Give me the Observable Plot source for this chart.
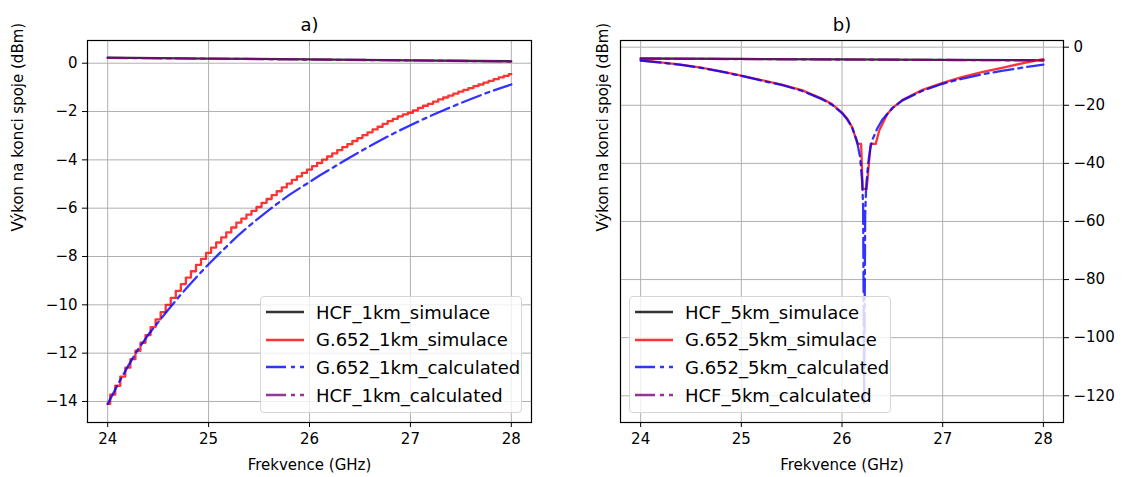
<!DOCTYPE html>
<html>
<head>
<meta charset="utf-8">
<script src="https://cdn.jsdelivr.net/npm/d3@7"></script>
<script src="https://cdn.jsdelivr.net/npm/@observablehq/plot@0.6"></script>
<style>
  body { margin: 0; background: white; }
  #wrap { position: relative; width: 1123px; height: 477px; font-family: "DejaVu Sans", sans-serif; }
  .panel { position: absolute; top: 0; }
  .legend { position: absolute; box-sizing: border-box; border: 1px solid #d6d6d6; border-radius: 4px;
            background: rgba(255,255,255,0.8); font-size: 18px; color: #000; }
  .row { position: absolute; left: 0; height: 28px; display: flex; align-items: center; white-space: nowrap; }
  .row svg { margin-left: 5px; margin-right: 12px; }
</style>
</head>
<body>
<div id="wrap">
  <div id="pa" class="panel" style="left:0"></div>
  <div id="pb" class="panel" style="left:560px"></div>
</div>
<script>
// ---------- data ----------
const xTicks = [24, 25, 26, 27, 28];
const yTicksA = [0, -2, -4, -6, -8, -10, -12, -14];
const yTicksB = [0, -20, -40, -60, -80, -100, -120];

const titleA = "a)";
const titleB = "b)";
const xLabel = "Frekvence (GHz)";
const yLabel = "Výkon na konci spoje (dBm)";

const legendA = ["HCF_1km_simulace", "G.652_1km_simulace", "G.652_1km_calculated", "HCF_1km_calculated"];
const legendB = ["HCF_5km_simulace", "G.652_5km_simulace", "G.652_5km_calculated", "HCF_5km_calculated"];
const seriesColors = ["black", "red", "blue", "purple"];

// HCF series (both panels)
const freqHcf = [24, 25, 26, 27, 28];
const hcf1kmSim = [0.23, 0.19, 0.16, 0.12, 0.08];
const hcf1kmCalc = [0.22, 0.19, 0.15, 0.12, 0.07];
const hcf5kmSim = [-3.9, -4.05, -4.2, -4.35, -4.5];
const hcf5kmCalc = [-3.95, -4.1, -4.25, -4.4, -4.55];

// G.652 1 km simulation (step-like)
const freqG1Sim = [24.00,24.05,24.10,24.15,24.20,24.25,24.30,24.35,24.40,24.45,24.50,24.55,24.60,24.65,24.70,24.75,24.80,24.85,24.90,24.95,
  25.00,25.05,25.10,25.15,25.20,25.25,25.30,25.35,25.40,25.45,25.50,25.55,25.60,25.65,25.70,25.75,25.80,25.85,25.90,25.95,
  26.00,26.05,26.10,26.15,26.20,26.25,26.30,26.35,26.40,26.45,26.50,26.55,26.60,26.65,26.70,26.75,26.80,26.85,26.90,26.95,
  27.00,27.05,27.10,27.15,27.20,27.25,27.30,27.35,27.40,27.45,27.50,27.55,27.60,27.65,27.70,27.75,27.80,27.85,27.90,27.95,28.00];
const g652_1kmSim = [-14.10,-13.72,-13.35,-12.97,-12.60,-12.25,-11.90,-11.57,-11.25,-10.92,-10.60,-10.30,-10.00,-9.71,-9.42,-9.14,-8.87,-8.61,-8.35,-8.10,
  -7.85,-7.63,-7.42,-7.21,-7.00,-6.80,-6.60,-6.43,-6.27,-6.11,-5.95,-5.78,-5.62,-5.46,-5.30,-5.14,-4.98,-4.83,-4.68,-4.54,
  -4.40,-4.26,-4.13,-3.99,-3.86,-3.73,-3.60,-3.47,-3.35,-3.22,-3.10,-2.98,-2.86,-2.74,-2.63,-2.51,-2.40,-2.30,-2.20,-2.12,
  -2.05,-1.95,-1.85,-1.76,-1.68,-1.59,-1.50,-1.42,-1.34,-1.26,-1.18,-1.10,-1.03,-0.95,-0.88,-0.80,-0.73,-0.66,-0.59,-0.52,-0.45];

// G.652 1 km calculated
const freqG1Calc = [24.0,24.1,24.2,24.3,24.4,24.5,24.6,24.7,24.8,24.9,25.0,25.1,25.2,25.3,25.4,25.5,25.6,25.7,25.8,25.9,
  26.0,26.1,26.2,26.3,26.4,26.5,26.6,26.7,26.8,26.9,27.0,27.1,27.2,27.3,27.4,27.5,27.6,27.7,27.8,27.9,28.0];
const g652_1kmCalc = [-14.10,-13.30,-12.55,-11.85,-11.25,-10.72,-10.20,-9.70,-9.22,-8.76,-8.32,-7.90,-7.50,-7.10,-6.74,-6.40,-6.07,-5.75,-5.45,-5.18,
  -4.92,-4.65,-4.40,-4.15,-3.90,-3.66,-3.43,-3.20,-2.98,-2.77,-2.57,-2.37,-2.18,-2.00,-1.82,-1.65,-1.48,-1.32,-1.16,-1.02,-0.88];

// G.652 5 km simulation
const freqG5Sim = [24.0,24.2,24.4,24.6,24.8,25.0,25.2,25.4,25.6,25.8,25.9,26.0,26.05,26.1,26.155,26.19,26.205,26.245,26.285,26.335,
  26.37,26.45,26.5,26.6,26.8,27.0,27.2,27.4,27.6,27.8,28.0];
const g652_5kmSim = [-4.5,-5.2,-6.0,-7.0,-8.3,-9.8,-11.3,-12.9,-14.8,-17.7,-19.6,-22.5,-24.5,-27.5,-33.3,-33.3,-48.8,-48.8,-33.3,-33.3,
  -28.7,-23.0,-21.0,-18.2,-14.7,-12.3,-10.2,-8.5,-7.0,-5.5,-4.1];

// G.652 5 km calculated
const freqG5Calc = [24.0,24.2,24.4,24.6,24.8,25.0,25.2,25.4,25.6,25.8,25.9,26.0,26.05,26.1,26.15,26.18,26.2,26.21,26.22,26.23,
  26.24,26.26,26.28,26.3,26.35,26.4,26.5,26.6,26.8,27.0,27.2,27.4,27.6,27.8,28.0];
const g652_5kmCalc = [-4.6,-5.3,-6.1,-7.1,-8.4,-9.9,-11.5,-13.0,-15.0,-17.9,-19.8,-22.7,-24.8,-27.5,-32.5,-38.0,-46.0,-55.0,-123.0,-58.0,
  -48.0,-40.0,-35.0,-32.0,-28.0,-25.0,-21.0,-18.3,-15.0,-12.6,-10.8,-9.3,-8.1,-7.0,-6.0];

// ---------- drawing ----------
const zip = (xs, ys) => xs.map((x, i) => ({x, y: ys[i]}));
const fmt = d => d < 0 ? "\u2212" + Math.abs(d) : String(d);
const DASHDOT = "20,5,4,5";
const LW = 2.3;

function panel({width, marginLeft, marginRight, yDomain, yTicks, yAnchor, yLabelDx, title, series}) {
  const grid = {stroke: "#b0b0b0", strokeOpacity: 1, strokeWidth: 1};
  return Plot.plot({
    width, height: 477,
    marginLeft, marginRight, marginTop: 40, marginBottom: 55,
    style: {fontFamily: "DejaVu Sans", fontSize: "15px", color: "#000", background: "white", overflow: "visible"},
    x: {domain: [23.8, 28.2]},
    y: {domain: yDomain},
    marks: [
      Plot.gridX(xTicks, grid),
      Plot.gridY(yTicks, grid),
      Plot.line(series[0], {x: "x", y: "y", stroke: seriesColors[0], strokeOpacity: 0.8, strokeWidth: LW}),
      Plot.line(series[1], {x: "x", y: "y", stroke: seriesColors[1], strokeOpacity: 0.8, strokeWidth: LW, curve: series[4]}),
      Plot.line(series[2], {x: "x", y: "y", stroke: seriesColors[2], strokeOpacity: 0.8, strokeWidth: LW, strokeDasharray: DASHDOT}),
      Plot.line(series[3], {x: "x", y: "y", stroke: seriesColors[3], strokeOpacity: 0.8, strokeWidth: LW, strokeDasharray: DASHDOT}),
      Plot.frame({stroke: "#000", strokeWidth: 1.2}),
      Plot.axisX(xTicks, {tickSize: 5, tickPadding: 6, tickFormat: fmt, label: null, fontSize: 15}),
      Plot.axisY(yTicks, {anchor: yAnchor, tickSize: 5, tickPadding: 5, tickFormat: fmt, label: null, fontSize: 15}),
      Plot.text([title], {frameAnchor: "top", dy: -22, fontSize: 18, text: d => d}),
      Plot.text([xLabel], {frameAnchor: "bottom", dy: 47, fontSize: 15, text: d => d}),
      Plot.text([yLabel], {frameAnchor: "left", rotate: -90, dx: yLabelDx, fontSize: 15, text: d => d})
    ]
  });
}

const seriesA = [zip(freqHcf, hcf1kmSim), zip(freqG1Sim, g652_1kmSim), zip(freqG1Calc, g652_1kmCalc), zip(freqHcf, hcf1kmCalc), "step"];
const seriesB = [zip(freqHcf, hcf5kmSim), zip(freqG5Sim, g652_5kmSim), zip(freqG5Calc, g652_5kmCalc), zip(freqHcf, hcf5kmCalc), "linear"];

document.getElementById("pa").append(panel({
  width: 560, marginLeft: 87, marginRight: 29,
  yDomain: [-14.87, 0.94], yTicks: yTicksA, yAnchor: "left", yLabelDx: -69,
  title: titleA, series: seriesA
}));
document.getElementById("pb").append(panel({
  width: 563, marginLeft: 60, marginRight: 60,
  yDomain: [-129.2, 2.3], yTicks: yTicksB, yAnchor: "right", yLabelDx: -17,
  title: titleB, series: seriesB
}));

function legend(labels, left, top) {
  const box = d3.select("#wrap").append("div").attr("class", "legend")
    .style("left", left + "px").style("top", top + "px")
    .style("width", "262px").style("height", "117px");
  labels.forEach((lab, i) => {
    const row = box.append("div").attr("class", "row").style("top", (1 + i * 27.7) + "px");
    const svg = row.append("svg").attr("width", 38).attr("height", 10);
    svg.append("line").attr("x1", 0).attr("x2", 38).attr("y1", 5).attr("y2", 5)
      .attr("stroke", seriesColors[i]).attr("stroke-opacity", 0.8).attr("stroke-width", LW)
      .attr("stroke-dasharray", i >= 2 ? DASHDOT : null);
    row.append("span").text(lab);
  });
}
legend(legendA, 260, 296);
legend(legendB, 629, 296);
</script>
</body>
</html>
